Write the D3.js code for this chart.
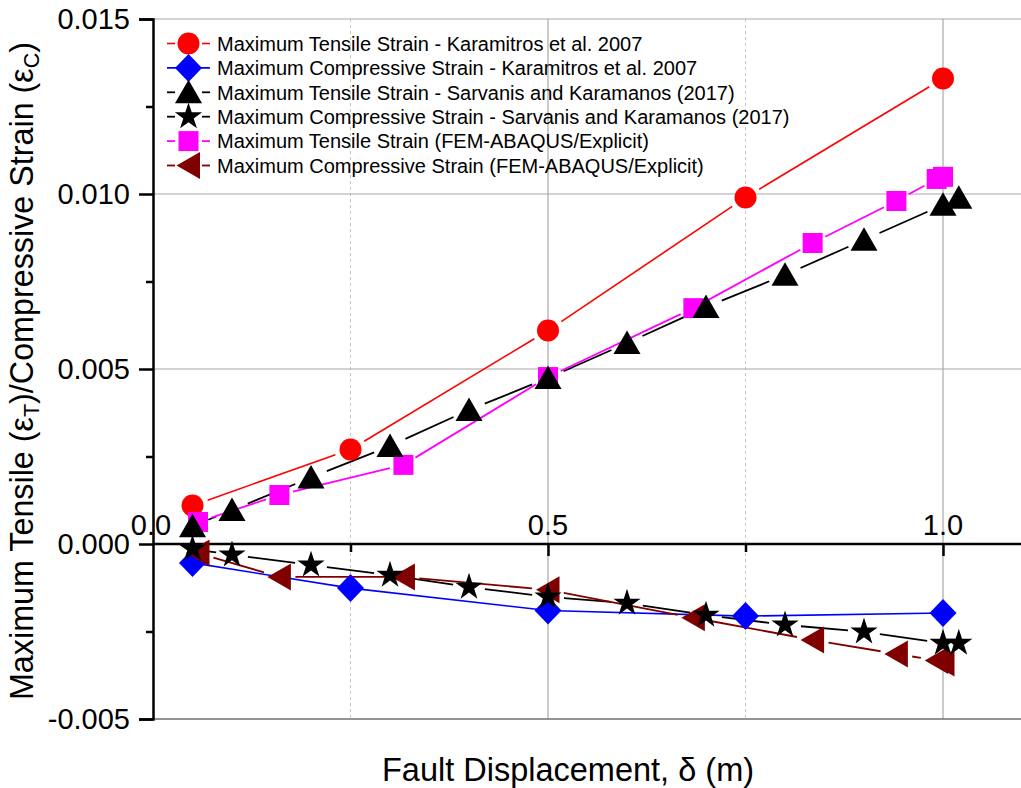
<!DOCTYPE html>
<html>
<head>
<meta charset="utf-8">
<script src="https://cdn.jsdelivr.net/npm/d3@7"></script>
<style>
  body { margin: 0; background: #fff; }
  svg { font-family: Arial, "Liberation Sans", sans-serif; }
</style>
</head>
<body>
<div id="chart"></div>
<script>
// data
const karaX = [0.05, 0.25, 0.5, 0.75, 1.0];
const karaTenY = [0.0011, 0.0027, 0.0061, 0.0099, 0.0133];
const karaCompY = [-0.00054, -0.00126, -0.0019, -0.00206, -0.00197];

const sarvX = [0.05, 0.1, 0.2, 0.3, 0.4, 0.5, 0.6, 0.7, 0.8, 0.9, 1.0, 1.02];
const sarvTenY = [0.00051, 0.00097, 0.0019, 0.0028, 0.00383, 0.00474, 0.00574, 0.00677, 0.00769, 0.00869, 0.00969, 0.00989];
const sarvCompY = [-0.00014, -0.00031, -0.0006, -0.00089, -0.00123, -0.00151, -0.00169, -0.00203, -0.00231, -0.00251, -0.00283, -0.00283];

const femX = [0.057, 0.16, 0.317, 0.5, 0.684, 0.835, 0.941, 0.992, 1.0];
const femTenY = [0.00063, 0.0014, 0.00226, 0.00477, 0.00674, 0.0086, 0.0098, 0.01043, 0.01049];
const femCompY = [-0.00026, -0.00094, -0.00094, -0.00131, -0.00211, -0.00274, -0.00314, -0.00333, -0.0034];

const seriesNames = [
  "Maximum Tensile Strain - Karamitros et al. 2007",
  "Maximum Compressive Strain - Karamitros et al. 2007",
  "Maximum Tensile Strain - Sarvanis and Karamanos (2017)",
  "Maximum Compressive Strain - Sarvanis and Karamanos (2017)",
  "Maximum Tensile Strain (FEM-ABAQUS/Explicit)",
  "Maximum Compressive Strain (FEM-ABAQUS/Explicit)"
];

const xMajor = [0.0, 0.5, 1.0];
const xMinor = [0.25, 0.75];
const yMajor = [-0.005, 0.0, 0.005, 0.010, 0.015];
const yMinor = [-0.0025, 0.0025, 0.0075, 0.0125];

const width = 1021, height = 788;

const svg = d3.select("#chart").append("svg")
  .attr("width", width)
  .attr("height", height);

const x = d3.scaleLinear().domain([0, 1.1]).range([153, 1022]);
const y = d3.scaleLinear().domain([-0.005, 0.015]).range([719, 19]);

// marker shapes
const shapes = {
  circle: "M11,0A11,11,0,1,1,-11,0A11,11,0,1,1,11,0Z",
  diamond: "M0,-14L13.5,0L0,14L-13.5,0Z",
  triangle: "M0,-12.5L13.5,11L-13.5,11Z",
  square: "M-10,-10H10V10H-10Z",
  left: "M-12,0L11.5,-13.5L11.5,13.5Z",
  star: d3.symbol(d3.symbolStar, 230)()
};

const series = [
  { xs: karaX, ys: karaTenY, color: "#ff0000", shape: "circle", gap: 16, lw: 1.6 },
  { xs: karaX, ys: karaCompY, color: "#0000ff", shape: "diamond", gap: 0, lw: 1.6 },
  { xs: sarvX, ys: sarvTenY, color: "#000000", shape: "triangle", gap: 17, lw: 1.8 },
  { xs: sarvX, ys: sarvCompY, color: "#000000", shape: "star", gap: 16, lw: 1.8 },
  { xs: femX, ys: femTenY, color: "#ff00ff", shape: "square", gap: 14, lw: 1.8 },
  { xs: femX, ys: femCompY, color: "#800000", shape: "left", gap: 16, lw: 1.8 }
];
series.forEach((s, i) => s.name = seriesNames[i]);

// grid
const grid = svg.append("g");
grid.selectAll(".vmaj").data([0.5, 1.0]).enter().append("line")
  .attr("x1", d => x(d)).attr("x2", d => x(d))
  .attr("y1", y(0.015)).attr("y2", y(-0.005))
  .attr("stroke", "#a8a8a8").attr("stroke-width", 1.2);
grid.selectAll(".vmin").data(xMinor).enter().append("line")
  .attr("x1", d => x(d)).attr("x2", d => x(d))
  .attr("y1", y(0.015)).attr("y2", y(-0.005))
  .attr("stroke", "#c8c8c8").attr("stroke-width", 1)
  .attr("stroke-dasharray", "3,3");
grid.selectAll(".hmaj").data([0.005, 0.010, 0.015]).enter().append("line")
  .attr("x1", x(0)).attr("x2", width)
  .attr("y1", d => y(d)).attr("y2", d => y(d))
  .attr("stroke", "#a8a8a8").attr("stroke-width", 1.2);
grid.append("line")
  .attr("x1", x(0)).attr("x2", width)
  .attr("y1", y(-0.005)).attr("y2", y(-0.005))
  .attr("stroke", "#707070").attr("stroke-width", 1.5);

// y axis on the left
const yAxis = d3.axisLeft(y).tickValues(yMajor).tickFormat(d3.format(".3f")).tickSize(14).tickPadding(9);
const yg = svg.append("g").attr("transform", `translate(${x(0)},0)`).call(yAxis);
yg.select(".domain").attr("stroke-width", 2.5);
yg.selectAll(".tick line").attr("stroke-width", 2.5);
yg.selectAll(".tick text").attr("font-size", 29).attr("font-family", "Arial, 'Liberation Sans', sans-serif")
  .text(d => d3.format(".3f")(d).replace("−", "-"));
const yMinorAxis = d3.axisLeft(y).tickValues(yMinor).tickFormat("").tickSize(7);
const ymg = svg.append("g").attr("transform", `translate(${x(0)},0)`).call(yMinorAxis);
ymg.select(".domain").remove();
ymg.selectAll(".tick line").attr("stroke-width", 2.5);

// x axis sits on y = 0, labels above the line
const xAxis = d3.axisBottom(x).tickValues([0.5, 1.0]).tickFormat("").tickSize(12);
const xg = svg.append("g").attr("transform", `translate(0,${y(0)})`).call(xAxis);
xg.select(".domain").remove();
xg.selectAll(".tick line").attr("stroke-width", 2.5);
const xMinorAxis = d3.axisBottom(x).tickValues(xMinor).tickFormat("").tickSize(8);
const xmg = svg.append("g").attr("transform", `translate(0,${y(0)})`).call(xMinorAxis);
xmg.select(".domain").remove();
xmg.selectAll(".tick line").attr("stroke-width", 2.5);
svg.append("line")
  .attr("x1", x(0)).attr("x2", width)
  .attr("y1", y(0)).attr("y2", y(0))
  .attr("stroke", "#000").attr("stroke-width", 2.5);
svg.selectAll(".xlab").data(xMajor).enter().append("text")
  .attr("x", d => x(d) + (d === 0 ? -2 : 0))
  .attr("y", y(0) - 9)
  .attr("text-anchor", "middle")
  .attr("font-size", 29)
  .text(d3.format(".1f"));

// lines with a gap round each marker
const lines = svg.append("g");
series.forEach(s => {
  const pts = s.xs.map((v, i) => [x(v), y(s.ys[i])]);
  for (let i = 0; i < pts.length - 1; i++) {
    const [x0, y0] = pts[i], [x1, y1] = pts[i + 1];
    const len = Math.hypot(x1 - x0, y1 - y0);
    if (len <= 2 * s.gap + 1) continue;
    const ux = (x1 - x0) / len, uy = (y1 - y0) / len;
    lines.append("line")
      .attr("x1", x0 + ux * s.gap).attr("y1", y0 + uy * s.gap)
      .attr("x2", x1 - ux * s.gap).attr("y2", y1 - uy * s.gap)
      .attr("stroke", s.color).attr("stroke-width", s.lw);
  }
});

// markers
const drawOrder = [0, 1, 4, 5, 2, 3];
drawOrder.forEach(k => {
  const s = series[k];
  svg.append("g").selectAll("path")
    .data(s.xs.map((v, i) => [v, s.ys[i]]))
    .enter().append("path")
    .attr("d", shapes[s.shape])
    .attr("transform", d => `translate(${x(d[0])},${y(d[1])})`)
    .attr("fill", s.color);
});

// legend
const legend = svg.append("g");
series.forEach((s, i) => {
  const cy = 43.5 + i * 24.4;
  const row = legend.append("g").attr("transform", `translate(0,${cy})`);
  if (s.gap === 0) {
    row.append("line").attr("x1", 167).attr("x2", 210).attr("y1", 0).attr("y2", 0)
      .attr("stroke", s.color).attr("stroke-width", s.lw);
  } else {
    row.append("line").attr("x1", 167).attr("x2", 175).attr("y1", 0).attr("y2", 0)
      .attr("stroke", s.color).attr("stroke-width", s.lw);
    row.append("line").attr("x1", 202).attr("x2", 210).attr("y1", 0).attr("y2", 0)
      .attr("stroke", s.color).attr("stroke-width", s.lw);
  }
  row.append("path").attr("d", shapes[s.shape])
    .attr("transform", "translate(188.5,0)")
    .attr("fill", s.color);
  row.append("text").attr("x", 217).attr("y", 0).attr("dy", "0.36em")
    .attr("font-size", 20).text(s.name);
});

// axis titles
svg.append("text")
  .attr("x", 568).attr("y", 781)
  .attr("text-anchor", "middle")
  .attr("font-size", 32.5)
  .text("Fault Displacement, \u03b4 (m)");

const yt = svg.append("text")
  .attr("transform", "translate(33,371) rotate(-90)")
  .attr("text-anchor", "middle")
  .attr("font-size", 32.3);
yt.append("tspan").text("Maximum Tensile (\u03b5");
yt.append("tspan").attr("font-size", 21.5).attr("dy", 6).text("T");
yt.append("tspan").attr("dy", -6).text(")/Compressive Strain (\u03b5");
yt.append("tspan").attr("font-size", 21.5).attr("dy", 6).text("C");
yt.append("tspan").attr("dy", -6).text(")");
</script>
</body>
</html>
